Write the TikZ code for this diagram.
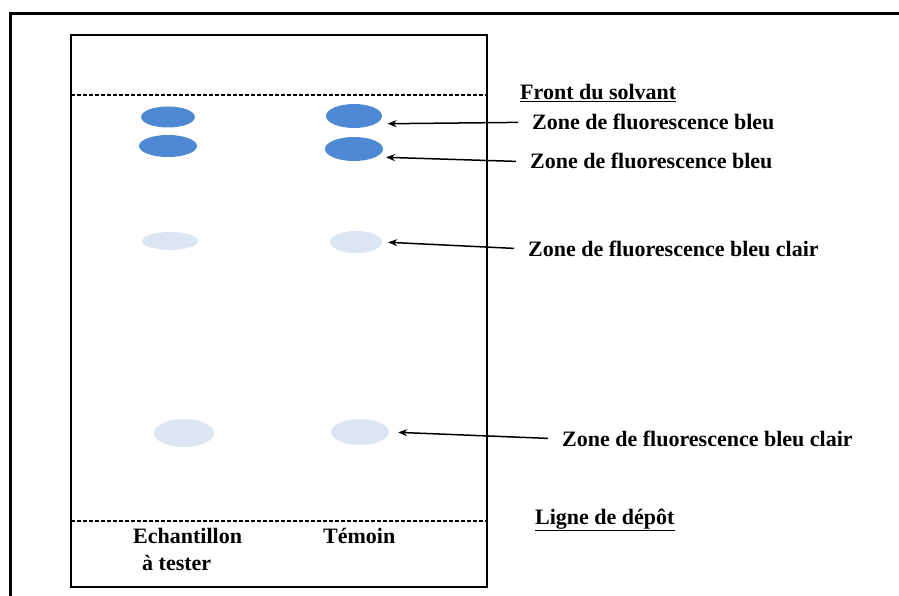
\documentclass[tikz,border=0pt]{standalone}
\usepackage{fontspec}
\setmainfont{Liberation Serif}
\usetikzlibrary{shapes.geometric,arrows.meta}
\definecolor{spotblue}{HTML}{4F88D3}
\definecolor{spotpale}{HTML}{DCE6F2}

\begin{document}
\begin{tikzpicture}[x=1pt,y=-1pt]
    \tikzstyle{spot}=[ellipse, inner sep=0pt];
    \tikzstyle{dark}=[spot, fill=spotblue];
    \tikzstyle{pale}=[spot, fill=spotpale];
    \tikzstyle{txt}=[font=\bfseries\fontsize{22}{25}\selectfont, inner sep=0pt];
    \tikzstyle{lab}=[txt, anchor=base west, inner xsep=14pt];
    \tikzstyle{pointer}=[-{Stealth[length=9pt,width=7pt]}, line width=1.5pt];

    \useasboundingbox (0,0) rectangle (899,596);
    \draw[line width=3pt] (10,640) -- (10,14) -- (940,14);
    \draw[line width=2.6pt] (71,35) rectangle (487,587);

    \draw[dash pattern=on 4pt off 2pt, line width=1.3pt] (71,95) -- (487,95);
    \draw[dash pattern=on 4pt off 2pt, line width=1.3pt] (71,521) -- (487,521);

    \node (s1) at (168,117) [dark, minimum width=54pt, minimum height=21pt] {};
    \node (s2) at (168,146) [dark, minimum width=58pt, minimum height=22pt] {};
    \node (s3) at (170,241) [pale, minimum width=56pt, minimum height=18pt] {};
    \node (s4) at (184,433) [pale, minimum width=60pt, minimum height=28pt] {};

    \node (t1) at (354,116) [dark, minimum width=56pt, minimum height=24pt] {};
    \node (t2) at (354,149) [dark, minimum width=58pt, minimum height=24pt] {};
    \node (t3) at (356,242) [pale, minimum width=52pt, minimum height=22pt] {};
    \node (t4) at (360,432) [pale, minimum width=58pt, minimum height=26pt] {};

    \node (front) at (520,100) [txt, anchor=base west] {\underline{Front du solvant}};
    \node (depot) at (535,524) [txt, anchor=base west] {\underline{Ligne de dépôt}};

    \node (ech) at (133,543) [txt, anchor=base west] {Echantillon};
    \node (tes) at (142,570) [txt, anchor=base west] {à tester};
    \node (tem) at (323,543) [txt, anchor=base west] {Témoin};

    \node (z1) at (518,130) [lab] {Zone de fluorescence bleu};
    \node (z2) at (516,169) [lab] {Zone de fluorescence bleu};
    \node (z3) at (514,256) [lab] {Zone de fluorescence bleu clair};
    \node (z4) at (548,446) [lab] {Zone de fluorescence bleu clair};

    \draw (z1.west) edge[pointer, shorten >=12pt] (t1.-20);
    \draw (z2.west) edge[pointer, shorten >=10pt] (t2.-20);
    \draw (z3.west) edge[pointer, shorten >=6pt] (t3.east);
    \draw (z4.west) edge[pointer, shorten >=9pt] (t4.east);

\end{tikzpicture}
\end{document}
